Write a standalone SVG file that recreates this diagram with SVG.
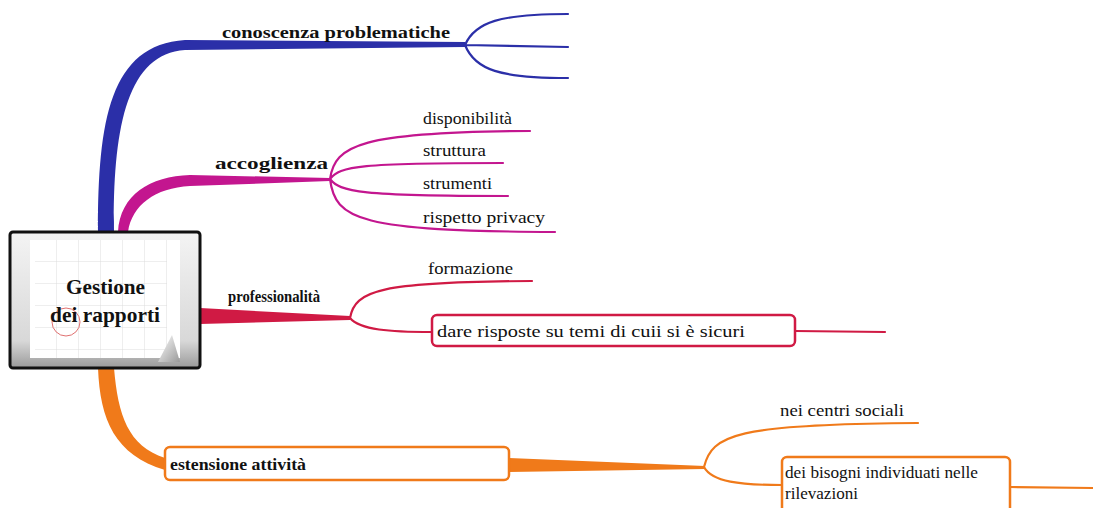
<svg xmlns="http://www.w3.org/2000/svg" width="1093" height="508" viewBox="0 0 1093 508">
<defs>
<linearGradient id="frame" x1="0" y1="0" x2="0" y2="1">
<stop offset="0" stop-color="#f4f4f4"/><stop offset="0.8" stop-color="#d8d8d8"/><stop offset="1" stop-color="#9a9a9a"/>
</linearGradient>
<linearGradient id="curl" x1="0" y1="0" x2="1" y2="1">
<stop offset="0" stop-color="#ffffff"/><stop offset="1" stop-color="#999"/>
</linearGradient>
<pattern id="grid" x="35" y="240" width="22" height="22" patternUnits="userSpaceOnUse">
<path d="M22 0V22H0" fill="none" stroke="#dcdcdc" stroke-width="1"/>
</pattern>
</defs>
<style>
text{font-family:"Liberation Serif","DejaVu Serif",serif;font-size:17px;fill:#111}
.bold{font-weight:bold}
.big{font-size:22px}
.thin{fill:none;stroke-width:2.2;stroke-linecap:round}
.box{fill:#fff;stroke-width:2.5}
</style>
<rect width="1093" height="508" fill="#fff"/>
<g id="connectors">
<path d="M98 232 C98 120 110 45 185 40 L465 42 L465 47 L185 50 C126 54 113 130 114 232 Z" fill="#2b2fa8"/>
<path class="thin" stroke="#2b2fa8" d="M465 45 C475 22 500 14 568 14 M465 45 L568 47 M465 45 C475 70 500 78 568 78"/>
<path d="M118 232 C120 195 150 176 190 175 L330 178 L330 181 L190 186 C155 188 132 205 128 232 Z" fill="#c3168f"/>
<path class="thin" stroke="#c3168f" d="M330 179 C335 145 360 132 530 131 M330 179 C340 166 360 163 503 163 M330 179 C340 192 360 196 508 196 M330 179 C335 220 360 231 555 232"/>
<path d="M200 308 L350 316 L350 320 L200 324 Z" fill="#d01a44"/>
<path class="thin" stroke="#d01a44" d="M350 318 C355 290 380 282 532 281 M350 318 C360 330 390 332 432 332 M795 331 L885 332"/>
<path d="M98 368 C100 420 115 455 165 470 L165 458 C128 446 118 415 114 368 Z" fill="#f07a1a"/>
<path d="M509 458 L705 466 L705 469 L509 472 Z" fill="#f07a1a"/>
<path class="thin" stroke="#f07a1a" d="M704 467 C712 435 735 424 918 423 M704 467 C712 482 740 485 782 485 M1010 487 L1093 488"/>
</g>
<g id="center">
<rect x="10" y="232" width="190" height="136" rx="3" fill="url(#frame)" stroke="#111" stroke-width="3"/>
<rect x="30" y="240" width="150" height="118" fill="#fff"/>
<rect x="35" y="240" width="132" height="118" fill="url(#grid)"/>
<circle cx="66" cy="322" r="14" fill="none" stroke="#e07070" stroke-width="1"/>
<path d="M172 335 L180 362 L158 362 Z" fill="url(#curl)"/>
<text class="bold big" x="66" y="294" textLength="79" lengthAdjust="spacingAndGlyphs">Gestione</text>
<text class="bold big" x="50" y="322" textLength="110" lengthAdjust="spacingAndGlyphs">dei rapporti</text>
</g>
<g id="conoscenza"><text class="bold" x="222" y="38" textLength="228" lengthAdjust="spacingAndGlyphs">conoscenza problematiche</text></g>
<g id="accoglienza"><text class="bold" x="215" y="169" textLength="113" lengthAdjust="spacingAndGlyphs">accoglienza</text></g>
<g id="disponibilita"><text x="423" y="124" textLength="89" lengthAdjust="spacingAndGlyphs">disponibilità</text></g>
<g id="struttura"><text x="423" y="156" textLength="63" lengthAdjust="spacingAndGlyphs">struttura</text></g>
<g id="strumenti"><text x="423" y="189" textLength="69" lengthAdjust="spacingAndGlyphs">strumenti</text></g>
<g id="privacy"><text x="423" y="223" textLength="122" lengthAdjust="spacingAndGlyphs">rispetto privacy</text></g>
<g id="professionalita"><text class="bold" x="228" y="302" textLength="92" lengthAdjust="spacingAndGlyphs">professionalità</text></g>
<g id="formazione"><text x="428" y="274" textLength="85" lengthAdjust="spacingAndGlyphs">formazione</text></g>
<g id="risposte">
<rect class="box" x="432" y="315" width="363" height="31" rx="5" stroke="#d01a44"/>
<text x="437" y="337" textLength="308" lengthAdjust="spacingAndGlyphs">dare risposte su temi di cuii si è sicuri</text>
</g>
<g id="estensione">
<rect class="box" x="165" y="447" width="344" height="33" rx="5" stroke="#f07a1a"/>
<text class="bold" x="170" y="470" textLength="136" lengthAdjust="spacingAndGlyphs">estensione attività</text>
</g>
<g id="centri"><text x="780" y="416" textLength="124" lengthAdjust="spacingAndGlyphs">nei centri sociali</text></g>
<g id="bisogni">
<rect class="box" x="782" y="457" width="228" height="60" rx="5" stroke="#f07a1a"/>
<text x="785" y="478" textLength="193" lengthAdjust="spacingAndGlyphs">dei bisogni individuati nelle</text>
<text x="785" y="499" textLength="73" lengthAdjust="spacingAndGlyphs">rilevazioni</text>
</g>
</svg>
